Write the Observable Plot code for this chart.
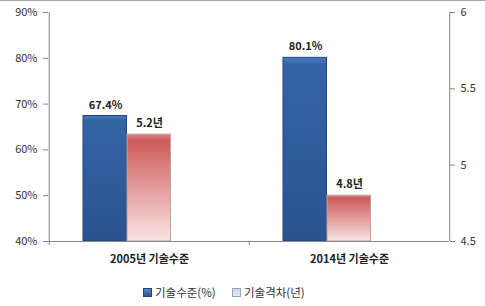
<!DOCTYPE html>
<html>
<head>
<meta charset="utf-8">
<script src="https://cdn.jsdelivr.net/npm/d3@7"></script>
<script src="https://cdn.jsdelivr.net/npm/@observablehq/plot@0.6"></script>
<style>
  body { margin: 0; background: #fff; font-family: "Noto Sans CJK KR", "Noto Sans", sans-serif; }
  #chart { border-top: 1px solid #a6a6a6; }
  #legend { position: relative; height: 30px; font-size: 11.5px; color: #333; }
  .item { position: absolute; top: 8px; display: flex; align-items: center; gap: 3px; }
  .sw { width: 7px; height: 7px; display: inline-block; }
</style>
</head>
<body>
<div id="chart"></div>
<div id="legend"></div>
<script>
const categories = ["2005년 기술수준", "2014년 기술수준"];
const levelValues = [67.4, 80.1];      // 기술수준(%)
const gapValues = [5.2, 4.8];          // 기술격차(년)
const leftTicks = [40, 50, 60, 70, 80, 90];
const rightTicks = [4.5, 5, 5.5, 6];
const seriesNames = ["기술수준(%)", "기술격차(년)"];

const leftDomain = [40, 90];
const rightDomain = [4.5, 6];
const toLeft = v => leftDomain[0] + (v - rightDomain[0]) / (rightDomain[1] - rightDomain[0]) * (leftDomain[1] - leftDomain[0]);
const fromLeft = v => rightDomain[0] + (v - leftDomain[0]) / (leftDomain[1] - leftDomain[0]) * (rightDomain[1] - rightDomain[0]);

const levelData = categories.map((c, i) => ({cat: c, v: levelValues[i], label: levelValues[i].toFixed(1) + "%"}));
const gapData = categories.map((c, i) => ({cat: c, v: toLeft(gapValues[i]), label: gapValues[i].toFixed(1) + "년"}));

const W = 485, H = 275, mL = 48, mR = 36, mT = 11, mB = 35;
const half = (W - mL - mR) / categories.length / 2;
const axisColor = "#878787";

const defs = () => {
  const d = d3.create("svg:defs");
  const b = d.append("linearGradient").attr("id", "gBlue").attr("x1", 0).attr("x2", 0).attr("y1", 0).attr("y2", 1);
  b.append("stop").attr("offset", "0%").attr("stop-color", "#4a7cc0");
  b.append("stop").attr("offset", "4%").attr("stop-color", "#3464a6");
  b.append("stop").attr("offset", "100%").attr("stop-color", "#2a538f");
  const r = d.append("linearGradient").attr("id", "gRed").attr("x1", 0).attr("x2", 0).attr("y1", 0).attr("y2", 1);
  r.append("stop").attr("offset", "0%").attr("stop-color", "#e08583");
  r.append("stop").attr("offset", "6%").attr("stop-color", "#cd5c5a");
  r.append("stop").attr("offset", "100%").attr("stop-color", "#fbe4e4");
  return d.node();
};

const chart = Plot.plot({
  width: W, height: H,
  marginLeft: mL, marginRight: mR, marginTop: mT, marginBottom: mB,
  style: {fontFamily: "'Noto Sans CJK KR', 'Noto Sans', sans-serif", fontSize: "11px", color: "#333", background: "#fff"},
  x: {domain: categories, padding: 0, label: null},
  y: {domain: leftDomain, label: null},
  marks: [
    defs,
    Plot.barY(levelData, {x: "cat", y1: leftDomain[0], y2: "v", fill: "url(#gBlue)", stroke: "#23467a", strokeWidth: 1, insetLeft: 34, insetRight: 2 * half - 78}),
    Plot.barY(gapData, {x: "cat", y1: leftDomain[0], y2: "v", fill: "url(#gRed)", stroke: "#b9a3a3", strokeWidth: 1, insetLeft: 78, insetRight: 2 * half - 122}),
    Plot.text(levelData, {x: "cat", y: "v", text: "label", dx: -44, dy: -11, fontWeight: "bold", fill: "#222"}),
    Plot.text(gapData, {x: "cat", y: "v", text: "label", dx: 0, dy: -11, fontWeight: "bold", fill: "#222"}),
    Plot.ruleY([leftDomain[0]], {stroke: axisColor}),
    Plot.ruleX([categories[0]], {dx: -half, stroke: axisColor}),
    Plot.ruleX([categories[categories.length - 1]], {dx: half, stroke: axisColor}),
    Plot.ruleX(categories, {dx: -half, y1: leftDomain[0], y2: leftDomain[0], insetBottom: -4, stroke: axisColor}),
    Plot.axisY(leftTicks, {anchor: "left", tickSize: 5, tickPadding: 6, stroke: axisColor, tickFormat: d => d + "%", fill: "#333"}),
    Plot.axisY(rightTicks.map(toLeft), {anchor: "right", tickSize: 5, tickPadding: 6, stroke: axisColor, fill: "#333",
      tickFormat: d => String(Math.round(fromLeft(d) * 10) / 10)}),
    Plot.axisX({anchor: "bottom", tickSize: 0, tickPadding: 14, fontWeight: "bold", fill: "#222"})
  ]
});
document.getElementById("chart").append(chart);

const legend = document.getElementById("legend");
const items = [
  {name: seriesNames[0], left: 143, bg: "linear-gradient(#5a86c4, #2a538f)", border: "#23467a"},
  {name: seriesNames[1], left: 232, bg: "linear-gradient(#c9d3e3, #e8edf4)", border: "#9aa6b8"}
];
items.forEach(it => {
  const el = document.createElement("div");
  el.className = "item";
  el.style.left = it.left + "px";
  const sw = document.createElement("span");
  sw.className = "sw";
  sw.style.background = it.bg;
  sw.style.border = "1px solid " + it.border;
  const t = document.createElement("span");
  t.textContent = it.name;
  el.append(sw, t);
  legend.append(el);
});
</script>
</body>
</html>
